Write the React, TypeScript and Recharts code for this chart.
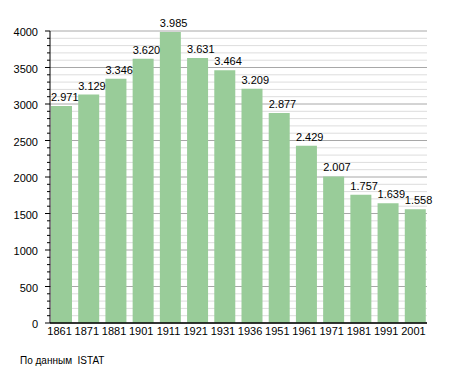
import React from "react";
import { BarChart, Bar, XAxis, YAxis, CartesianGrid, LabelList } from "recharts";

const years = ["1861", "1871", "1881", "1901", "1911", "1921", "1931", "1936", "1951", "1961", "1971", "1981", "1991", "2001"];
const population = [2971, 3129, 3346, 3620, 3985, 3631, 3464, 3209, 2877, 2429, 2007, 1757, 1639, 1558];
const yTicks = Array.from({ length: 41 }, (_, i) => i * 100);
const sourceText = "По данным  ISTAT";

const data = years.map((y, i) => ({ year: y, value: population[i] }));

const FONT = "'Liberation Sans', Arial, sans-serif";

const fmt = (v: number) => {
  const s = String(v);
  return s.length > 3 ? s.slice(0, s.length - 3) + "." + s.slice(s.length - 3) : s;
};

const YTick = (props: any) => {
  const { x, y, payload } = props;
  const v = payload.value as number;
  const major = v % 500 === 0;
  return (
    <g>
      <line x1={x - (major ? 5 : 3)} x2={x} y1={y} y2={y} stroke="#000" strokeWidth={1} />
      {major && (
        <text x={x - 12} y={y + 5} textAnchor="end" fontSize={11} fontFamily={FONT} fill="#000">
          {v}
        </text>
      )}
    </g>
  );
};

const XTick = (props: any) => {
  const { x, y, payload } = props;
  return (
    <text x={x - 2} y={y + 12} textAnchor="middle" fontSize={11} fontFamily={FONT} fill="#000">
      {payload.value}
    </text>
  );
};

const GridLine = (props: any) => {
  const { x1, x2, y1, y2, index } = props;
  const major = index % 5 === 0;
  return <line x1={x1} x2={x2} y1={y1} y2={y2} stroke={major ? "#a8a8a8" : "#dddddd"} strokeWidth={1} />;
};

const BarLabel = (props: any) => {
  const { x, y, value } = props;
  return (
    <text x={x} y={y - 5} textAnchor="start" fontSize={11} fontFamily={FONT} fill="#000">
      {fmt(value)}
    </text>
  );
};

export default function App() {
  return (
    <div style={{ position: "absolute", left: 0, top: 0, width: 455, height: 373, background: "#fff" }}>
      <BarChart
        width={455}
        height={373}
        data={data}
        margin={{ top: 31, right: 28, bottom: 30, left: 0 }}
        barSize={21}
      >
        <CartesianGrid vertical={false} horizontal={GridLine as any} />
        <XAxis
          dataKey="year"
          interval={0}
          height={20}
          tickSize={0}
          tickMargin={0}
          tick={XTick}
          padding={{ left: -2, right: -2 }}
          axisLine={{ stroke: "#000", strokeWidth: 1.3 }}
          tickLine={false}
        />
        <YAxis
          width={50}
          domain={[0, 4000]}
          ticks={yTicks}
          interval={0}
          tickSize={0}
          tickMargin={0}
          tick={YTick}
          axisLine={{ stroke: "#000", strokeWidth: 1 }}
          tickLine={false}
        />
        <Bar dataKey="value" fill="#99cc99" isAnimationActive={false}>
          <LabelList dataKey="value" content={BarLabel} />
        </Bar>
      </BarChart>
      <div
        style={{
          position: "absolute",
          left: 20,
          top: 355,
          fontFamily: FONT,
          fontSize: 10,
          whiteSpace: "pre",
          color: "#000",
          lineHeight: "12px",
        }}
      >
        {sourceText}
      </div>
    </div>
  );
}
